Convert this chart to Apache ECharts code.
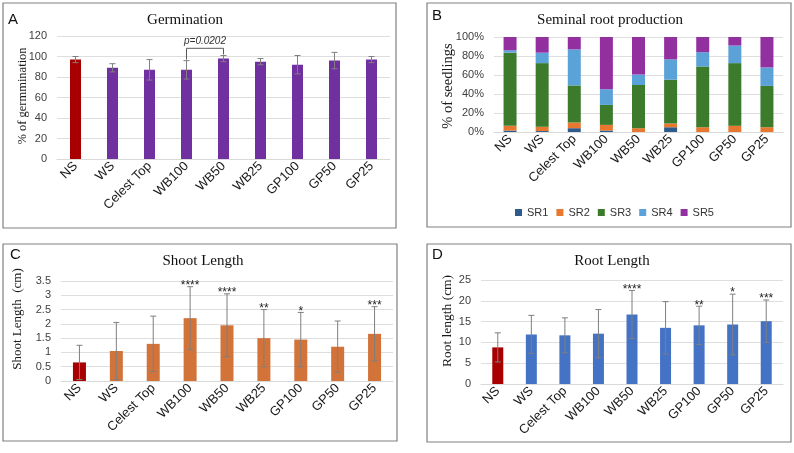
<!DOCTYPE html>
<html lang="en">
<head>
    <meta charset="UTF-8">
    <title>Seedling traits</title>
    <script type="text/javascript" src="https://cdn.jsdelivr.net/npm/echarts@6/dist/echarts.min.js"></script>
    <style>
        html, body { margin: 0; padding: 0; background: #fff; }
    </style>
</head>
<body>
<div id="main" style="width:794px;height:453px;"></div>
<script type="text/javascript">
    // categories shared by all 4 panels
    var cats = ['NS', 'WS', 'Celest Top', 'WB100', 'WB50', 'WB25', 'GP100', 'GP50', 'GP25'];

    // A - germination
    var germMean = [97, 89, 87, 87, 98, 95, 92, 96, 97];
    var germErr = [3, 4, 10, 9, 3, 3, 9, 8, 3];
    var germTicks = [0, 20, 40, 60, 80, 100, 120];
    var bracketPair = [3, 4];
    var bracketY = 108;
    var bracketText = 'p=0.0202';

    // B - seminal roots (% of seedlings)
    var srNames = ['SR1', 'SR2', 'SR3', 'SR4', 'SR5'];
    var sr1 = [1.5, 1, 4, 1.5, 0, 5, 0, 0, 0];
    var sr2 = [5, 4.5, 6, 6, 4, 4, 5, 6.5, 5];
    var sr3 = [77, 67, 39, 21, 45.5, 46, 64, 66, 43.5];
    var sr4 = [2.5, 11, 38, 16.5, 11, 21.5, 15, 18.5, 19.5];
    var sr5 = [14, 16.5, 13, 55, 39.5, 23.5, 16, 9, 32];

    // C - shoot length
    var shootMean = [0.65, 1.05, 1.3, 2.2, 1.95, 1.5, 1.45, 1.2, 1.65];
    var shootErr = [0.6, 1.0, 0.97, 1.1, 1.1, 1.0, 0.95, 0.9, 0.95];
    var shootSig = ['', '', '', '****', '****', '**', '*', '', '***'];

    // D - root length
    var rootMean = [8.8, 11.9, 11.7, 12.1, 16.7, 13.5, 14.1, 14.3, 15.1];
    var rootErr = [3.5, 4.6, 4.2, 5.8, 5.8, 6.3, 4.6, 7.3, 5.1];
    var rootSig = ['', '', '', '', '****', '', '**', '*', '***'];

    var sans = 'Liberation Sans';
    var serif = 'Liberation Serif';
    var red = '#A80000';
    var srColors = ['#2F5B8C', '#E8782F', '#3C7A2C', '#5BA2D8', '#9330A0'];

    var myChart = echarts.init(document.getElementById('main'), null, {renderer: 'canvas'});

    function errRender(params, api) {
        var x = api.value(0), v = api.value(1), e = api.value(2);
        var hi = api.coord([x, v + e]);
        var lo = api.coord([x, Math.max(v - e, 0)]);
        var w = 3;
        var st = {stroke: '#7f7f7f', lineWidth: 1};
        return {
            type: 'group',
            children: [
                {type: 'line', shape: {x1: hi[0], y1: hi[1], x2: lo[0], y2: lo[1]}, style: st},
                {type: 'line', shape: {x1: hi[0] - w, y1: hi[1], x2: hi[0] + w, y2: hi[1]}, style: st},
                {type: 'line', shape: {x1: lo[0] - w, y1: lo[1], x2: lo[0] + w, y2: lo[1]}, style: st}
            ]
        };
    }

    function sigRender(params, api) {
        var x = api.value(0), top = api.value(1) + api.value(2);
        var p = api.coord([x, top]);
        var s = params.context.sig[params.dataIndex];
        return {
            type: 'text',
            x: p[0], y: p[1] - 1,
            style: {text: s, font: '12px ' + sans, fill: '#222', align: 'center', verticalAlign: 'middle'}
        };
    }

    function bracketRender(params, api) {
        if (params.dataIndex !== 0) return;
        var a = bracketPair[0], b = bracketPair[1];
        var p1 = api.coord([a, germMean[a] + germErr[a] + 1]);
        var p2 = api.coord([a, bracketY]);
        var p3 = api.coord([b, bracketY]);
        var p4 = api.coord([b, germMean[b] + germErr[b] + 1]);
        return {
            type: 'group',
            children: [
                {type: 'polyline', shape: {points: [p1, p2, p3, p4]}, style: {stroke: '#595959', lineWidth: 1, fill: null}},
                {type: 'text', x: (p2[0] + p3[0]) / 2, y: p2[1] - 2,
                    style: {text: bracketText, font: 'italic 10px ' + sans, fill: '#333', align: 'center', verticalAlign: 'bottom'}}
            ]
        };
    }

    function errData(mean, err) {
        var out = [];
        for (var i = 0; i < mean.length; i++) out.push([i, mean[i], err[i]]);
        return out;
    }

    function xAx(grid) {
        return {
            type: 'category', gridIndex: grid, data: cats,
            axisLine: {lineStyle: {color: '#d9d9d9'}},
            axisTick: {show: false},
            axisLabel: {rotate: 45, fontFamily: sans, fontSize: 13, color: '#1a1a1a', margin: 5, interval: 0}
        };
    }

    function yAx(grid, max, interval, fmt) {
        return {
            type: 'value', gridIndex: grid, min: 0, max: max, interval: interval,
            axisLine: {show: false}, axisTick: {show: false},
            axisLabel: {fontFamily: sans, fontSize: 11, color: '#404040', margin: 10, formatter: fmt},
            splitLine: {lineStyle: {color: '#dedede'}}
        };
    }

    var srSeries = [sr1, sr2, sr3, sr4, sr5].map(function (d, k) {
        return {
            name: srNames[k], type: 'bar', stack: 'sr', xAxisIndex: 1, yAxisIndex: 1,
            data: d, barWidth: 13, itemStyle: {color: srColors[k]}
        };
    });

    function titleAt(text, x, y) {
        return {text: text, left: x, top: y, textAlign: 'center',
            textStyle: {fontFamily: serif, fontSize: 15, fontWeight: 'normal', color: '#111'}};
    }
    function letterAt(text, x, y) {
        return {text: text, left: x, top: y, padding: 0,
            textStyle: {fontFamily: sans, fontSize: 15, fontWeight: 'normal', color: '#111'}};
    }
    function box(x, y, w, h) {
        return {type: 'rect', shape: {x: x, y: y, width: w, height: h},
            style: {fill: null, stroke: '#808080', lineWidth: 1.2}};
    }
    function yName(text, x, y, size) {
        return {type: 'text', x: x, y: y, rotation: Math.PI / 2,
            style: {text: text, font: size + 'px ' + serif, fill: '#1a1a1a', align: 'center', verticalAlign: 'middle'}};
    }

    var option = {
        animation: false,
        backgroundColor: '#fff',
        title: [
            titleAt('Germination', 180, 8),
            titleAt('Seminal root production', 605, 8),
            titleAt('Shoot Length', 198, 249),
            titleAt('Root Length', 607, 249),
            letterAt('A', 8, 12),
            letterAt('B', 432, 8),
            letterAt('C', 10, 247),
            letterAt('D', 432, 247)
        ],
        graphic: [
            box(3, 3, 393, 225),
            box(427, 3, 364, 224),
            box(3, 244, 394, 197),
            box(427, 244, 364, 198),
            yName('% of germmination', 23, 96, 12.5),
            yName('% of seedlings', 448, 86, 14.5),
            yName('Shoot Length  (cm)', 18, 319, 13),
            yName('Root length (cm)', 447, 321, 13.5)
        ],
        legend: {
            data: srNames, left: 510, top: 202, icon: 'rect', itemWidth: 7, itemHeight: 7, itemGap: 8,
            textStyle: {fontFamily: sans, fontSize: 11, color: '#333'}
        },
        grid: [
            {left: 57, top: 36, width: 333, height: 123},
            {left: 494, top: 37, width: 289, height: 95},
            {left: 61, top: 281, width: 332, height: 100},
            {left: 481, top: 280, width: 302, height: 104}
        ],
        xAxis: [xAx(0), xAx(1), xAx(2), xAx(3)],
        yAxis: [
            yAx(0, germTicks[germTicks.length - 1], germTicks[1] - germTicks[0]),
            yAx(1, 100, 20, '{value}%'),
            yAx(2, 3.5, 0.5),
            yAx(3, 25, 5)
        ],
        series: [
            {type: 'bar', xAxisIndex: 0, yAxisIndex: 0, data: germMean, barWidth: 11,
                itemStyle: {color: function (p) { return p.dataIndex === 0 ? red : '#7030A0'; }}},
            {type: 'custom', xAxisIndex: 0, yAxisIndex: 0, data: errData(germMean, germErr), renderItem: errRender, z: 5},
            {type: 'custom', xAxisIndex: 0, yAxisIndex: 0, data: [[0]], renderItem: bracketRender, z: 5},
            {type: 'bar', xAxisIndex: 2, yAxisIndex: 2, data: shootMean, barWidth: 13,
                itemStyle: {color: function (p) { return p.dataIndex === 0 ? red : '#D2733A'; }}},
            {type: 'custom', xAxisIndex: 2, yAxisIndex: 2, data: errData(shootMean, shootErr), renderItem: errRender, z: 5},
            {type: 'custom', xAxisIndex: 2, yAxisIndex: 2, data: errData(shootMean, shootErr), z: 5,
                renderItem: function (p, api) { p.context.sig = shootSig; return sigRender(p, api); }},
            {type: 'bar', xAxisIndex: 3, yAxisIndex: 3, data: rootMean, barWidth: 11,
                itemStyle: {color: function (p) { return p.dataIndex === 0 ? red : '#4472C4'; }}},
            {type: 'custom', xAxisIndex: 3, yAxisIndex: 3, data: errData(rootMean, rootErr), renderItem: errRender, z: 5},
            {type: 'custom', xAxisIndex: 3, yAxisIndex: 3, data: errData(rootMean, rootErr), z: 5,
                renderItem: function (p, api) { p.context.sig = rootSig; return sigRender(p, api); }}
        ].concat(srSeries)
    };
    myChart.setOption(option);
</script>
</body>
</html>
